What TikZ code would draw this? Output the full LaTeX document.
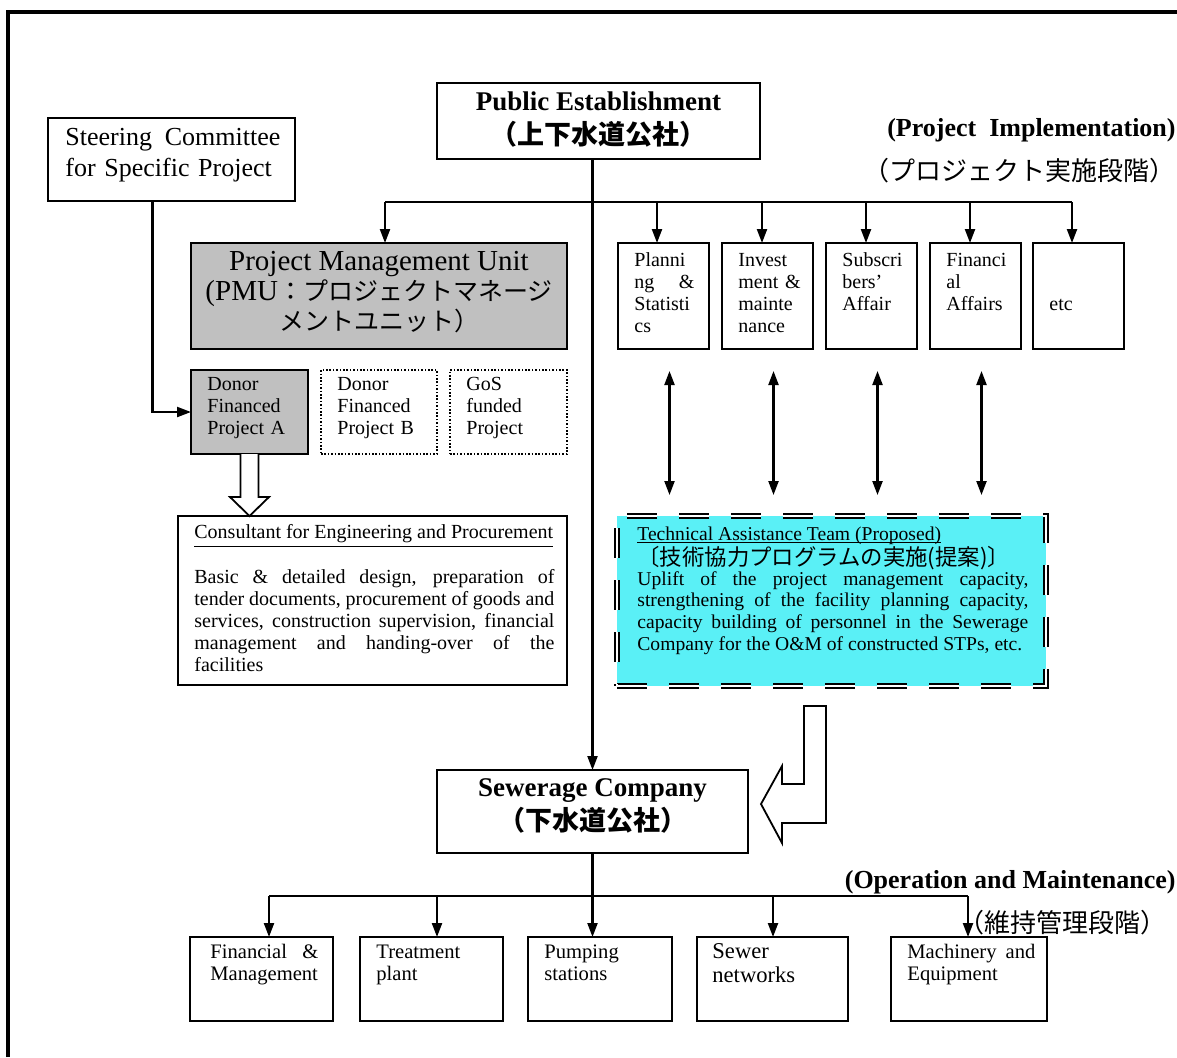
\documentclass[tikz,border=0pt]{standalone}
\usepackage{fontspec}
\setmainfont{Liberation Serif}
\newfontfamily\jp{Noto Sans CJK JP}
\usetikzlibrary{arrows.meta,calc,fit}
\definecolor{pmugray}{RGB}{192,192,192}
\definecolor{tacyan}{RGB}{90,240,246}
\newcommand\myul[1]{\begingroup\setbox0\hbox{#1}\rlap{\rule[-1.4pt]{\wd0}{0.5pt}}\box0\endgroup}
\tikzset{
 box/.style={draw, line width=0.95pt, inner sep=0pt, outer sep=0pt},
 graybox/.style={box, fill=pmugray},
 dotbox/.style={draw, line width=0.8pt, dash pattern=on 0.8pt off 0.9pt, inner sep=0pt, outer sep=0pt},
 tabox/.style={fill=tacyan, draw=black, double=white, double distance=1.4pt, line width=0.75pt, dash pattern=on 15pt off 11pt, inner sep=0pt, outer sep=0pt},
 conn/.style={line width=1.1pt},
 arr/.style={conn, -{Triangle[length=7pt,width=5pt]}},
 dblarr/.style={conn, {Triangle[length=7pt,width=5pt]}-{Triangle[length=7pt,width=5pt]}},
 hollow/.style={line width=0.9pt, fill=white, line join=miter},
 txt/.style={inner sep=0pt, anchor=north west, align=left, font=\fontsize{10}{11}\selectfont},
 ttl/.style={inner sep=0pt, anchor=north, align=center},
 lbl/.style={inner sep=0pt, font=\bfseries\fontsize{13}{15}\selectfont},
 jlbl/.style={inner sep=0pt, font=\jp\fontsize{13}{15}\selectfont},
}
\begin{document}
\begin{tikzpicture}[x=0.5pt,y=-0.5pt]
\useasboundingbox (0,0) rectangle (1177,1057);
% frame
\draw[line width=1.6pt] (8,1057) -- (8,12) -- (1177,12);

% boxes
\node[box, fit={(437,83) (760,159)}] (pe) {};
\node[box, fit={(48,118) (295,201)}] (steer) {};
\node[graybox, fit={(191,243) (567,349)}] (pmu) {};
\node[box, fit={(618,243) (709,349)}] (plan) {};
\node[box, fit={(722,243) (813,349)}] (inv) {};
\node[box, fit={(826,243) (917,349)}] (sub) {};
\node[box, fit={(930,243) (1021,349)}] (fina) {};
\node[box, fit={(1033,243) (1124,349)}] (etc) {};
\node[graybox, fit={(191,370) (308,454)}] (donA) {};
\node[dotbox, fit={(321,370) (437,454)}] (donB) {};
\node[dotbox, fit={(450,370) (567,454)}] (gos) {};
\node[box, fit={(178,516) (567,685)}] (cons) {};
\node[tabox, fit={(617,516) (1046,686)}] (ta) {};
\node[box, fit={(437,770) (748,853)}] (sc) {};
\node[box, fit={(190,937) (333,1021)}] (fm) {};
\node[box, fit={(360,937) (503,1021)}] (tp) {};
\node[box, fit={(528,937) (672,1021)}] (ps) {};
\node[box, fit={(697,937) (848,1021)}] (sn) {};
\node[box, fit={(891,937) (1047,1021)}] (me) {};

% texts
\node[ttl, font=\bfseries\fontsize{13.5}{14.6}\selectfont] (peT) at (598.5,89.5) {\strut Public Establishment\\{\jp（上下水道公社）}};
\node[txt, text width=107.5pt, font=\fontsize{13}{15.5}\selectfont] (steerT) at (65,123.5) {\strut Steering\hfill Committee\\for Specific Project};
\node[ttl, font=\fontsize{14.5}{15}\selectfont] (pmuT) at (379,249.5) {\strut Project Management Unit\\(PMU{\jp\fontsize{12.5}{15}\selectfont：プロジェクトマネージ}\\{\jp\fontsize{12.5}{15}\selectfont メントユニット）}};
\node[lbl, anchor=base east] (piL) at (1176,136) {(Project\ \ Implementation)};
\node[jlbl, anchor=base east] (piJ) at (1176,180) {（プロジェクト実施段階）};

\node[txt, text width=30pt] (planT) at (634,250.6) {\strut Planni\\ng\hfill\&\\Statisti\\cs};
\node[txt, text width=32pt] (invT) at (738,250.6) {\strut Invest\\ment \&\\mainte\\nance};
\node[txt, text width=32pt] (subT) at (842,250.6) {\strut Subscri\\bers’\\Affair};
\node[txt, text width=32pt] (finaT) at (946,250.6) {\strut Financi\\al\\Affairs};
\node[txt] (etcT) at (1049,294.6) {\strut etc};

\node[txt, text width=40pt] (donAT) at (207,374.6) {\strut Donor\\Financed\\Project A};
\node[txt, text width=40pt] (donBT) at (337,374.6) {\strut Donor\\Financed\\Project B};
\node[txt, text width=40pt] (gosT) at (466,374.6) {\strut GoS\\funded\\Project};

\node[txt, text width=180pt, align=justify] (consT) at (194,523) {\strut\underline{Consultant for Engineering and Procurement}\\[10pt]
Basic \& detailed design, preparation of\linebreak tender documents, procurement of goods and\linebreak services, construction supervision, financial\linebreak management and handing-over of the\linebreak facilities};

\node[txt, text width=195.5pt, align=justify, font=\fontsize{9.8}{10.85}\selectfont] (taT) at (637,524.5) {\strut\myul{Technical Assistance Team (Proposed)}\\\smash{\raisebox{-1.8pt}{\jp\fontsize{11.2}{10.85}\selectfont〔技術協力プログラムの実施(提案)〕}}\\[0.8pt]Uplift of the project management capacity,\linebreak strengthening of the facility planning capacity,\linebreak capacity building of personnel in the Sewerage\linebreak Company for the O\&M of constructed STPs, etc.};

\node[ttl, font=\bfseries\fontsize{13.5}{14.6}\selectfont] (scT) at (592.5,775.5) {\strut Sewerage Company\\{\jp（下水道公社）}};
\node[lbl, anchor=base east] (omL) at (1176,888) {(Operation and Maintenance)};
\node[jlbl, anchor=base west] (omJ) at (958,932) {（維持管理段階）};

\node[txt, text width=54pt, font=\fontsize{10.3}{11}\selectfont] (fmT) at (210,942.6) {\strut Financial\hfill\&\\Management};
\node[txt, text width=60pt, font=\fontsize{10.3}{11}\selectfont] (tpT) at (376,942.6) {\strut Treatment\\plant};
\node[txt, text width=60pt, font=\fontsize{10.3}{11}\selectfont] (psT) at (544,942.6) {\strut Pumping\\stations};
\node[txt, text width=70pt, font=\fontsize{11.3}{11}\selectfont] (snT) at (712,942.6) {\strut Sewer\\networks};
\node[txt, text width=64pt, font=\fontsize{10.3}{11}\selectfont] (meT) at (907,942.6) {\strut Machinery\hfill and\\Equipment};

% connectors top
\coordinate (busL) at (385,202);
\coordinate (busR) at (1072,202);
\draw[conn] (busL) -- (busR);
\draw[arr] (sc.north |- pe.south) -- (sc.north);
\draw[arr] (busL) -- (busL |- pmu.north);
\foreach \b/\dx in {plan/-6.5,inv/-5.5,sub/-5.5,fina/-5.5,etc/-6.5}{
  \path ($(\b.north)+(\dx,0)$) coordinate (t\b);
  \draw[arr] (t\b |- busL) -- (t\b);
}
\foreach \b in {plan,inv,sub,fina}{
  \draw[dblarr, shorten <=11pt, shorten >=10.5pt] ($(\b.south)+(6,0)$) -- ($(\b.south |- ta.north)+(6,0)$);
}
\draw[arr] ($(steer.south)+(-19,0)$) |- (donA.west);

% hollow arrow donor A -> consultant
\path (donA.south) coordinate (ha);
\draw[hollow] ($(ha)+(-9,0)$) -- ++(0,43) -- ++(-10.5,0) -- (ha |- cons.north) -- ($(ha)+(19.5,43)$) -- ++(-10.5,0) -- ++(0,-43);

% bent hollow arrow TA -> Sewerage Company
\path ($(sc.east)+(13,-7.5)$) coordinate (tip);
\draw[hollow] (tip) -- ++(21,-38) -- ++(0,18) -- ++(22,0) -- ++(0,-78) -- ++(22,0) -- ++(0,117) -- ++(-44,0) -- ++(0,20) -- cycle;

% bottom connectors
\coordinate (obL) at (269,896);
\coordinate (ob2) at (437,896);
\coordinate (ob4) at (773,896);
\coordinate (obR) at (968,896);
\draw[conn] (obL) -- (obR);
\draw[arr] (sc.south) -- (sc.south |- ps.north);
\draw[arr] (obL) -- (obL |- fm.north);
\draw[arr] (ob2) -- (ob2 |- tp.north);
\draw[arr] (ob4) -- (ob4 |- sn.north);
\draw[arr] (obR) -- (obR |- me.north);
\end{tikzpicture}
\end{document}
